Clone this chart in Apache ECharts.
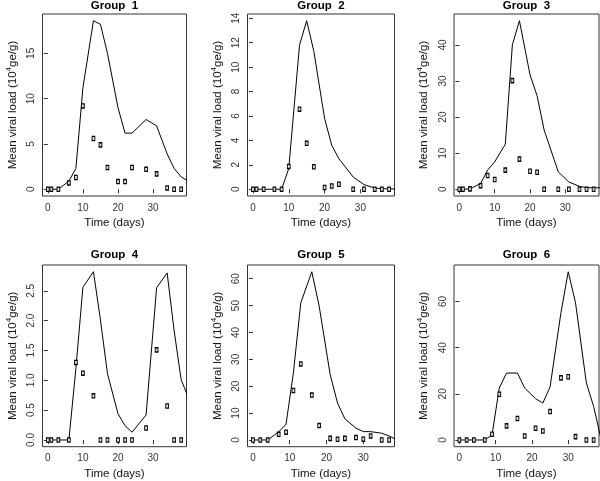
<!DOCTYPE html>
<html>
<head>
<meta charset="utf-8">
<script src="https://cdn.jsdelivr.net/npm/echarts@6/dist/echarts.min.js"></script>
<style>html,body{margin:0;padding:0;background:#fff}#c{width:600px;height:481px}</style>
</head>
<body>
<div id="c"></div>
<script>
// sampling days (groups 1-4 and groups 5-6); last fit point is the model value past the axis end
const daysA = [0,1,3,6,8,10,13,15,17,20,22,24,28,31,34,36,38];
const fitDaysA = [0,1,3,6,8,10,13,15,17,20,22,24,28,31,34,36,38,40];
const daysB = [0,2,4,7,9,11,13,16,18,21,23,25,28,30,32,35,37];
const fitDaysB = [0,2,4,7,9,11,13,16,18,21,23,25,28,30,32,35,37,39];

const g1Obs = [0,0,0,0.7,1.3,9.2,5.6,4.9,2.4,0.85,0.85,2.4,2.2,1.7,0.15,0,0];
const g1Fit = [0,0,0,0.9,2.3,11.2,18.6,18.2,15.0,9.0,6.2,6.2,7.7,7.0,3.9,2.3,1.36,0.9];
const g2Obs = [0,0,0,0,0,1.87,6.56,3.76,1.84,0.14,0.27,0.41,0,0,0,0,0];
const g2Fit = [0,0,0,0,0,1.7,11.8,13.8,11.3,5.8,3.6,2.5,1.0,0.38,0.1,0.05,0.03,0.02];
const g3Obs = [0,0,0.1,1.0,3.8,2.7,5.3,30.1,8.35,5.0,4.7,0,0,0,0,0,0];
const g3Fit = [0,0,0.1,1.6,5.3,7.6,12.5,40,46.7,31.7,25.9,16.4,4.8,2.0,0.8,0.45,0.4,0.4];
const g4Obs = [0,0,0,0,1.30,1.12,0.74,0,0,0,0,0,0.2,1.51,0.57,0,0];
const g4Fit = [0,0,0,0,1.2,2.56,2.82,2.01,1.11,0.44,0.24,0.13,0.42,2.55,2.8,1.83,1.01,0.72];
const g5Obs = [0,0,0,2.1,2.9,18.4,28.3,16.7,5.35,0.6,0.25,0.6,0.9,0.3,1.5,0,0];
const g5Fit = [0,0,0,3.0,5.9,25,51,62.6,49.8,24.3,13.7,7.85,4.4,3.1,3.1,2.5,1.5,0.15];
const g6Obs = [0,0,0,0,2.5,19.8,6.1,9.3,1.7,5.1,3.9,12.3,26.9,27.4,1.45,0,0];
const g6Fit = [0,0,0,0,2.2,22.5,29,29,22.5,17.9,16,23,55.2,72.9,59.5,24.7,14.5,0.8];

const titles = ['Group  1','Group  2','Group  3','Group  4','Group  5','Group  6'];
const xTicks = [0,10,20,30];
const yTicks = [
  [0,5,10,15],
  [0,2,4,6,8,10,12,14],
  [0,10,20,30,40],
  [0,0.5,1,1.5,2,2.5],
  [0,10,20,30,40,50,60],
  [0,20,40,60]
];
const xLabel = 'Time (days)';
const yLabelParts = ['Mean viral load (10', '4', 'ge/g)'];

const panels = [
  {obs:g1Obs, fit:g1Fit, d:daysA, fd:fitDaysA},
  {obs:g2Obs, fit:g2Fit, d:daysA, fd:fitDaysA},
  {obs:g3Obs, fit:g3Fit, d:daysA, fd:fitDaysA},
  {obs:g4Obs, fit:g4Fit, d:daysA, fd:fitDaysA},
  {obs:g5Obs, fit:g5Fit, d:daysB, fd:fitDaysB},
  {obs:g6Obs, fit:g6Fit, d:daysB, fd:fitDaysB}
];

// layout (pixels)
const colLeft = [42.5, 247.5, 454];
const colRight = [186.5, 394.5, 599];
const rowTop = [14, 265];
const rowBottom = [196, 446.7];

const FONT = 'Liberation Sans, Arial, sans-serif';
const grids = [], xAxes = [], yAxes = [], series = [], graphics = [];

panels.forEach((p, i) => {
  const c = i % 3, r = Math.floor(i / 3);
  grids.push({
    left: colLeft[c], width: colRight[c] - colLeft[c],
    top: rowTop[r], height: rowBottom[r] - rowTop[r],
    show: true, borderColor: '#333', borderWidth: 1, backgroundColor: 'transparent',
    containLabel: false
  });
  const dmax = p.d[p.d.length - 1];
  const ymax = Math.max(...p.fit.slice(0, p.d.length), ...p.obs);
  const xmin = -0.04 * dmax, xmax = 1.04 * dmax;
  const ymin = -0.04 * ymax, ymaxA = 1.04 * ymax;
  xAxes.push({
    type: 'value', gridIndex: i, min: xmin, max: xmax,
    axisLine: {show: false},
    splitLine: {show: false},
    axisTick: {show: true, inside: false, length: 4, lineStyle: {color: '#333'}, customValues: xTicks},
    axisLabel: {customValues: xTicks, margin: 7, fontSize: 10, color: '#333', fontFamily: FONT},
    name: xLabel, nameLocation: 'middle', nameGap: 21,
    nameTextStyle: {fontSize: 11.5, color: '#111', fontFamily: FONT}
  });
  const yt = yTicks[i];
  yAxes.push({
    type: 'value', gridIndex: i, min: ymin, max: ymaxA,
    axisLine: {show: false},
    splitLine: {show: false},
    axisTick: {show: true, inside: false, length: 4, lineStyle: {color: '#333'}, customValues: yt},
    axisLabel: {customValues: yt, rotate: 90, margin: 6, fontSize: 10, color: '#333', fontFamily: FONT,
      formatter: (v) => (i === 3 ? v.toFixed(1) : String(v))},
    name: '{a|' + yLabelParts[0] + '}{s|' + yLabelParts[1] + '}{a|' + yLabelParts[2] + '}',
    nameLocation: 'middle', nameGap: 24, nameRotate: 90,
    nameTextStyle: {fontSize: 11.5, color: '#111', fontFamily: FONT, lineHeight: 14,
      rich: {
        a: {fontSize: 11.5, color: '#111', fontFamily: FONT, lineHeight: 14, verticalAlign: 'bottom'},
        s: {fontSize: 8, color: '#111', fontFamily: FONT, lineHeight: 14, verticalAlign: 'top'}
      }}
  });
  series.push({
    type: 'line', xAxisIndex: i, yAxisIndex: i,
    data: p.fd.map((d, k) => [d, p.fit[k]]),
    showSymbol: false, clip: true, silent: true, animation: false,
    lineStyle: {color: '#000', width: 1}, z: 2
  });
  series.push({
    type: 'scatter', xAxisIndex: i, yAxisIndex: i,
    data: p.d.map((d, k) => [d, p.obs[k]]),
    symbol: 'rect', symbolSize: [2.8, 4.2], animation: false,
    itemStyle: {color: '#ddd', borderColor: '#000', borderWidth: 1.1, opacity: 1}, z: 3
  });
  graphics.push({
    type: 'text',
    x: (colLeft[c] + colRight[c]) / 2, y: r === 0 ? 6 : 255,
    style: {text: titles[i], fontSize: 11.5, fontWeight: 'bold', fontFamily: FONT,
      fill: '#000', textAlign: 'center', textVerticalAlign: 'middle'}
  });
});

const chart = echarts.init(document.getElementById('c'), null, {renderer: 'canvas'});
chart.setOption({
  animation: false,
  backgroundColor: '#fff',
  grid: grids, xAxis: xAxes, yAxis: yAxes, series: series,
  graphic: graphics
});
</script>
</body>
</html>
